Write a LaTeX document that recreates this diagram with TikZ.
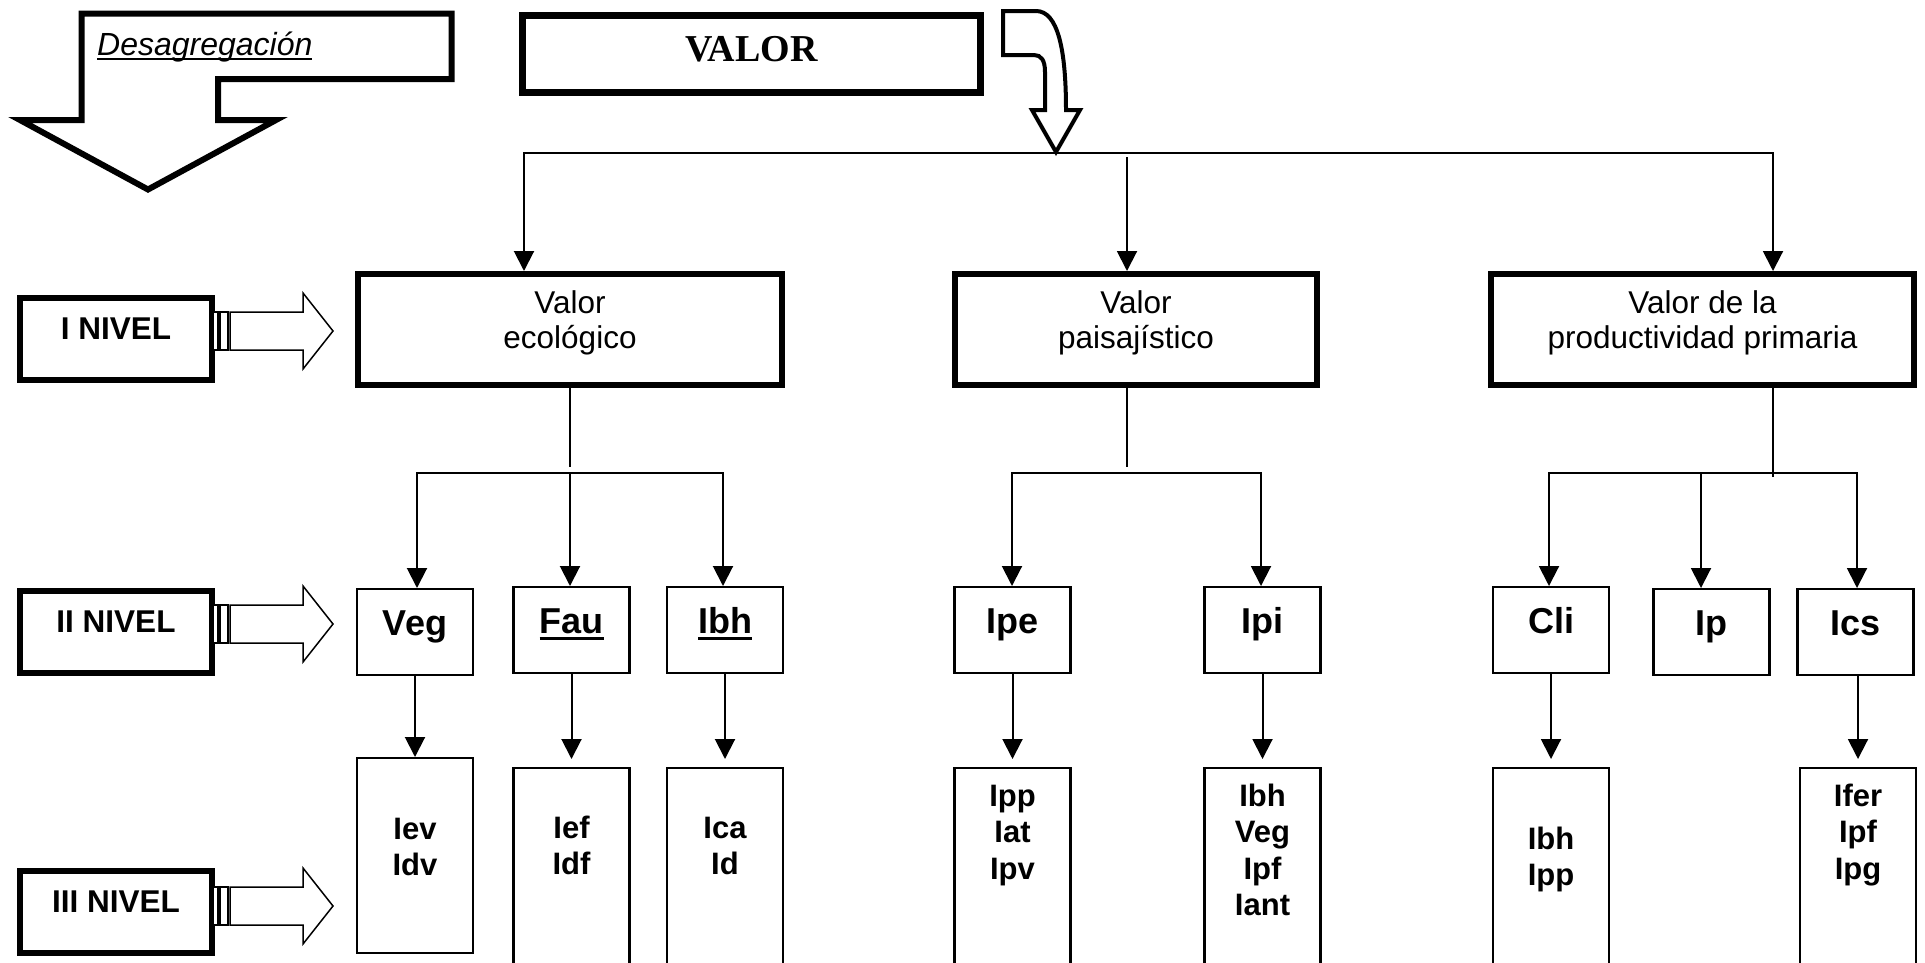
\documentclass[tikz,border=0pt]{standalone}
\usepackage{fontspec}
\setmainfont{Liberation Sans}
\newfontfamily\serifbf{Liberation Serif}
\usetikzlibrary{arrows.meta}

% underline with given depth below the baseline and thickness
\newcommand\myul[3]{\setbox0\hbox{#3}\rlap{\rule[-#1]{\wd0}{#2}}\box0}
% stacked lines, baseline of the block = baseline of its first line
\newcommand\stk[1]{\begin{tabular}[t]{@{}c@{}}#1\end{tabular}}

\begin{document}
\begin{tikzpicture}[x=1pt,y=-1pt,
  conn/.style={line width=2pt},
  arr/.style={line width=2pt,-{Triangle[length=20pt,width=20pt]}},
  lvlbox/.style={draw,line width=6pt,inner sep=0pt,minimum width=192pt,
    text height=41pt,text depth=41pt,anchor=north,
    font=\fontsize{31.5}{36}\selectfont\bfseries},
  topbox/.style={draw,line width=6pt,inner sep=0pt,
    text height=39pt,text depth=72pt,anchor=north,
    font=\fontsize{31.5}{35}\selectfont},
  lvtwo/.style={draw,line width=2.2pt,inner sep=0pt,minimum width=116pt,
    text height=46pt,text depth=40pt,anchor=north,
    font=\fontsize{36}{40}\selectfont\bfseries},
  lvthree/.style={draw,line width=2.2pt,inner sep=0pt,minimum width=116pt,
    anchor=north,font=\fontsize{31}{36.5}\selectfont\bfseries},
  blockarr/.pic={
    \draw[line width=1.5pt,fill=white] (0,-19) rectangle (5,19);
    \draw[line width=1.5pt,fill=white] (7,-19) rectangle (15,19);
    \draw[line width=1.5pt,fill=white,line join=miter]
      (17,-19) -- (90,-19) -- (90,-38) -- (120,0) -- (90,38) -- (90,19) -- (17,19) -- cycle;
  }
]
\useasboundingbox (0,0) rectangle (1925,962);
\clip (0,0) rectangle (1925,962);

% disaggregation arrow with its caption
\draw[line width=6pt,line join=miter,fill=white]
  (81.5,13.5) -- (451.5,13.5) -- (451.5,79) -- (218,79) -- (218,120)
  -- (276,120) -- (148,189.5) -- (20,120) -- (81.5,120) -- cycle;
\node[anchor=base west,inner sep=0pt,font=\fontsize{32}{38}\selectfont\itshape]
  (desag) at (97,55) {\myul{5pt}{2pt}{Desagregación}};

% top box
\node[draw,line width=7pt,inner sep=0pt,minimum width=458pt,
  text height=46pt,text depth=31pt,anchor=north,
  font=\serifbf\bfseries\fontsize{38}{42}\selectfont]
  (valor) at (751.5,12) {VALOR};

% bent arrow down to the distribution line
\draw[line width=4pt,line join=miter,fill=white]
  (1003,11) -- (1036,11) .. controls (1058,11) and (1066,50) .. (1066,110)
  -- (1080,110) -- (1056,152) -- (1032,110) -- (1045,110) -- (1045,72)
  .. controls (1045,60) and (1041,55) .. (1034,55) -- (1003,55) -- cycle;

% level I boxes
\node[topbox,minimum width=424pt] (eco) at (570,271) {\stk{Valor\\ecológico}};
\node[topbox,minimum width=362pt] (pai) at (1136,271) {\stk{Valor\\paisajístico}};
\node[topbox,minimum width=423pt] (pro) at (1702.5,271) {\stk{Valor de la\\productividad primaria}};

% distribution line from the top
\coordinate (busL) at (524,152.5);
\coordinate (busM) at (1127,157);
\coordinate (busR) at (1773,152.5);
\draw[arr] (busR) -- (busL) -- (busL |- eco.north);
\draw[arr] (busL) -- (busR) -- (busR |- pro.north);
\draw[arr] (busM) -- (busM |- pai.north);

% level II boxes
\node[lvtwo] (veg) at (415,588) {Veg};
\node[lvtwo] (fau) at (571.5,586) {\myul{7pt}{3.5pt}{Fau}};
\node[lvtwo] (ibh) at (725,586) {\myul{7pt}{3.5pt}{Ibh}};
\node[lvtwo] (ipe) at (1012.5,586) {Ipe};
\node[lvtwo] (ipi) at (1262.5,586) {Ipi};
\node[lvtwo] (cli) at (1551,586) {Cli};
\node[lvtwo] (ip) at (1711.5,588) {Ip};
\node[lvtwo] (ics) at (1855.5,588) {Ics};

% level III boxes
\node[lvthree,text height=81pt,text depth=114pt] (veg3) at (415,757) {\stk{Iev\\Idv}};
\node[lvthree,text height=70pt,text depth=260pt] (fau3) at (571.5,767) {\stk{Ief\\Idf}};
\node[lvthree,text height=70pt,text depth=260pt] (ibh3) at (725,767) {\stk{Ica\\Id}};
\node[lvthree,text height=38pt,text depth=260pt] (ipe3) at (1012.5,767) {\stk{Ipp\\Iat\\Ipv}};
\node[lvthree,text height=38pt,text depth=260pt] (ipi3) at (1262.5,767) {\stk{Ibh\\Veg\\Ipf\\Iant}};
\node[lvthree,text height=81pt,text depth=260pt] (cli3) at (1551,767) {\stk{Ibh\\Ipp}};
\node[lvthree,text height=38pt,text depth=260pt] (ics3) at (1858,767) {\stk{Ifer\\Ipf\\Ipg}};

% stems below the level I boxes
\coordinate (s1) at (570,467);
\coordinate (s2) at (1127,467);
\coordinate (s3) at (1773,477);
\draw[conn] (eco.south) -- (s1);
\draw[conn] (pai.south -| s2) -- (s2);
\draw[conn] (pro.south -| s3) -- (s3);

% branches to level II
\coordinate (g1L) at (417,473);
\coordinate (g1M) at (570,473);
\coordinate (g1R) at (723,473);
\draw[arr] (g1R) -- (g1L) -- (g1L |- veg.north);
\draw[arr] (g1L) -- (g1R) -- (g1R |- ibh.north);
\draw[arr] (g1M) -- (g1M |- fau.north);

\coordinate (g2L) at (1012,473);
\coordinate (g2R) at (1261,473);
\draw[arr] (g2R) -- (g2L) -- (g2L |- ipe.north);
\draw[arr] (g2L) -- (g2R) -- (g2R |- ipi.north);

\coordinate (g3L) at (1549,473);
\coordinate (g3M) at (1701,473);
\coordinate (g3R) at (1857,473);
\draw[arr] (g3R) -- (g3L) -- (g3L |- cli.north);
\draw[arr] (g3L) -- (g3R) -- (g3R |- ics.north);
\draw[arr] (g3M) -- (g3M |- ip.north);

% level II to level III
\draw[arr] (veg.south) -- (veg.south |- veg3.north);
\draw[arr,shorten >=8pt] (fau.south) -- (fau.south |- fau3.north);
\draw[arr,shorten >=8pt] (ibh.south) -- (ibh.south |- ibh3.north);
\draw[arr,shorten >=8pt] (ipe.south) -- (ipe.south |- ipe3.north);
\draw[arr,shorten >=8pt] (ipi.south) -- (ipi.south |- ipi3.north);
\draw[arr,shorten >=8pt] (cli.south) -- (cli.south |- cli3.north);
\draw[arr,shorten >=8pt] (ics3.north |- ics.south) -- (ics3.north);

% level labels with their pointers
\node[lvlbox] (n1) at (116,295) {I NIVEL};
\node[lvlbox] (n2) at (116,588) {II NIVEL};
\node[lvlbox] (n3) at (116,868) {III NIVEL};
\pic at (213,331) {blockarr};
\pic at (213,624) {blockarr};
\pic at (213,906) {blockarr};
\end{tikzpicture}
\end{document}
